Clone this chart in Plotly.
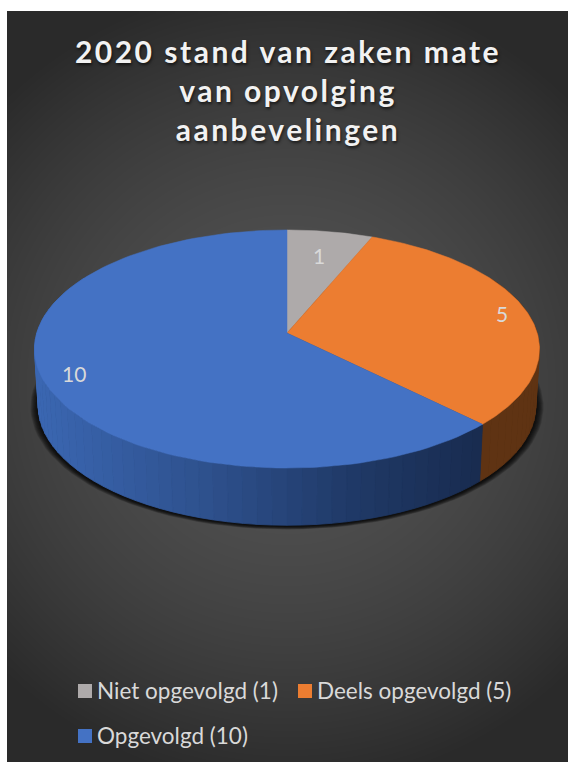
import numpy as np
import plotly.graph_objects as go

# --- data ---
categories = ["Niet opgevolgd", "Deels opgevolgd", "Opgevolgd"]
values = [1, 5, 10]
top_colors = ["#AEAAAA", "#EC7D31", "#4472C4"]
side_colors = ["#6b6868", "#5F3313", None]
title_lines = ["2020 stand van zaken mate", "van opvolging", "aanbevelingen"]

# --- layout constants (page pixels) ---
W, H = 568, 762
PANEL = (7, 11)
CX = 287.0
TOP = dict(a=250.2, b=116.9, c=333.0, k=-0.1345)
BOT = dict(a=246.6, b=117.5, c=389.5, k=-0.1345)
label_pos = [(319, 256), (502, 314), (74, 374)]
legend_pos = [(85, 691), (305, 691), (85, 736)]
blue_side_stops = [(38, (59, 103, 178)), (200, (47, 82, 143)), (350, (32, 58, 104)), (480, (25, 44, 80))]


def project(theta_deg, r, g):
    t = np.radians(theta_deg)
    u, v = r * np.sin(t), -r * np.cos(t)
    d = 1 + g["k"] * v
    return CX + g["a"] * u / d, g["c"] + g["b"] * v / d


fig = go.Figure()

# panel background gradient (cell centres sit half a cell inside the panel)
xs = np.arange(PANEL[0] + 2, W + 3, 4.0)
ys = np.arange(PANEL[1] + 2, H + 3, 4.0)
X, Y = np.meshgrid(xs, ys)
dist = np.hypot(X - 287, Y - 385)
Z = 83 - 33 * (dist / 355) ** 1.7
Z = np.clip(Z, 42, 83)
fig.add_trace(go.Heatmap(x=xs, y=ys, z=Z, zmin=0, zmax=255, zsmooth="best", showscale=False,
                         colorscale=[[0, "rgb(0,0,0)"], [1, "rgb(255,255,255)"]], hoverinfo="skip"))

# soft shadow underneath the disc
ang = np.arange(0, 361, 3.0)
for d in range(9, 0, -1):
    g = dict(BOT, a=BOT["a"] + d * 0.85, b=BOT["b"] + d * 0.32, c=BOT["c"] + 1)
    px, py = project(ang, 1.0, g)
    fig.add_trace(go.Scatter(x=px, y=py, mode="lines", fill="toself", fillcolor="rgba(0,0,0,0.15)",
                             line=dict(width=0), hoverinfo="skip", showlegend=False))

# slice angle extents from the values
total = sum(values)
edges = np.cumsum([0] + values) / total * 360


def blue_side(x):
    sx = [s[0] for s in blue_side_stops]
    rgb = [np.interp(x, sx, [s[1][i] for s in blue_side_stops]) for i in range(3)]
    return "rgb(%d,%d,%d)" % tuple(rgb)


# rim, drawn as short strips split on the slice edges
rim_angles = np.unique(np.r_[np.arange(60, 301, 3.0), edges[(edges > 60) & (edges < 300)]])
for a0, a1 in zip(rim_angles[:-1], rim_angles[1:]):
    mid = (a0 + a1) / 2
    idx = int(np.searchsorted(edges, mid) - 1)
    x0, y0 = project(a0, 1.0, TOP)
    x1, y1 = project(a1, 1.0, TOP)
    x2, y2 = project(a1, 1.0, BOT)
    x3, y3 = project(a0, 1.0, BOT)
    col = side_colors[idx] or blue_side((x0 + x1) / 2)
    fig.add_trace(go.Scatter(x=[x0, x1, x2, x3, x0], y=[y0, y1, y2, y3, y0], mode="lines", fill="toself",
                             fillcolor=col, line=dict(color=col, width=0.8), hoverinfo="skip", showlegend=False))

# top face slices
for i, name in enumerate(categories):
    th = np.linspace(edges[i], edges[i + 1], 120)
    px, py = project(th, 1.0, TOP)
    ax, ay = project(0, 0.0, TOP)
    fig.add_trace(go.Scatter(x=np.r_[ax, px, ax], y=np.r_[ay, py, ay], mode="lines", fill="toself",
                             fillcolor=top_colors[i], line=dict(color=top_colors[i], width=0.5),
                             name=name, text=f"{name}: {values[i]}", hoverinfo="text", showlegend=False))

annotations = []
# value labels
for i, v in enumerate(values):
    annotations.append(dict(x=label_pos[i][0], y=label_pos[i][1] - 1, text=str(v), showarrow=False,
                            xref="x", yref="y", font=dict(family="Lato", size=21, color="#D9D9D9")))

# legend
for i, name in enumerate(categories):
    lx, ly = legend_pos[i]
    fig.add_trace(go.Scatter(x=[lx], y=[ly], mode="markers", hoverinfo="skip", showlegend=False,
                             marker=dict(symbol="square", size=14, color=top_colors[i], line=dict(width=0))))
    annotations.append(dict(x=lx + 10, y=ly - 1, text=f"{name} ({values[i]})", showarrow=False, xanchor="left",
                            xref="x", yref="y", font=dict(family="Lato", size=22.5, color="#D9D9D9")))

fig.update_layout(
    width=W, height=H, margin=dict(l=0, r=0, t=0, b=0),
    paper_bgcolor="white", plot_bgcolor="white",
    xaxis=dict(range=[0, W], visible=False),
    yaxis=dict(range=[H, 0], visible=False),
    title=dict(text="<br>".join(title_lines), x=0.507, xanchor="center", xref="paper",
               y=1 - 63 / H, yanchor="top", yref="paper",
               font=dict(family="Lato", size=30, weight=700, color="#F2F2F2",
                         shadow="1px 2px 3px rgba(0,0,0,0.6)")),
    annotations=annotations,
)

post = """
document.body.style.margin = '0';
document.querySelectorAll('.gtitle').forEach(function (t) { t.style.letterSpacing = '2.5px'; });
"""
fig.write_html("out.html", post_script=post, config={"displayModeBar": False})
